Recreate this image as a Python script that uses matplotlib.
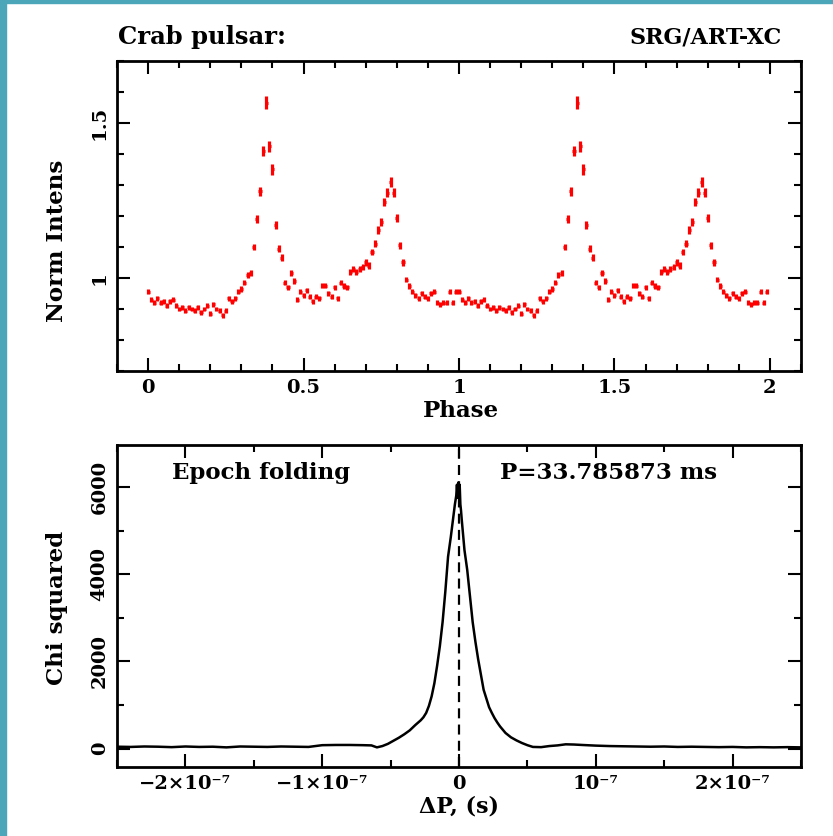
import numpy as np
import matplotlib
matplotlib.use("Agg")
import matplotlib.pyplot as plt
from matplotlib.patches import Rectangle

# folded light curve, one cycle in 100 phase bins (shown twice)
phase_bins = np.arange(100) * 0.01
norm_intens = [
    0.955, 0.93, 0.92, 0.935, 0.92, 0.925, 0.91, 0.925, 0.93, 0.91,
    0.90, 0.905, 0.895, 0.905, 0.90, 0.895, 0.905, 0.89, 0.90, 0.91,
    0.885, 0.915, 0.90, 0.895, 0.88, 0.895, 0.935, 0.925, 0.935, 0.955,
    0.965, 0.985, 1.01, 1.015, 1.10, 1.19, 1.28, 1.41, 1.565, 1.425,
    1.35, 1.17, 1.095, 1.065, 0.985, 0.97, 1.015, 0.99, 0.93, 0.955,
    0.945, 0.96, 0.94, 0.925, 0.94, 0.935, 0.975, 0.975, 0.95, 0.94,
    0.97, 0.935, 0.985, 0.975, 0.97, 1.02, 1.03, 1.02, 1.03, 1.035,
    1.05, 1.04, 1.085, 1.11, 1.155, 1.18, 1.245, 1.275, 1.31, 1.275,
    1.195, 1.105, 1.05, 0.995, 0.975, 0.955, 0.945, 0.935, 0.95, 0.94,
    0.935, 0.95, 0.955, 0.92, 0.915, 0.92, 0.92, 0.955, 0.92, 0.955,
]
intens_err = [
    0.008, 0.008, 0.008, 0.008, 0.008, 0.008, 0.008, 0.008, 0.008, 0.008,
    0.008, 0.008, 0.008, 0.008, 0.008, 0.008, 0.008, 0.008, 0.008, 0.008,
    0.008, 0.008, 0.008, 0.008, 0.008, 0.008, 0.008, 0.008, 0.008, 0.008,
    0.009, 0.009, 0.010, 0.010, 0.011, 0.013, 0.015, 0.017, 0.021, 0.018,
    0.017, 0.013, 0.011, 0.011, 0.009, 0.009, 0.010, 0.009, 0.008, 0.008,
    0.008, 0.008, 0.008, 0.008, 0.008, 0.008, 0.008, 0.008, 0.008, 0.008,
    0.008, 0.008, 0.009, 0.009, 0.009, 0.010, 0.010, 0.010, 0.010, 0.010,
    0.010, 0.010, 0.010, 0.011, 0.012, 0.013, 0.014, 0.015, 0.016, 0.015,
    0.013, 0.011, 0.010, 0.009, 0.009, 0.008, 0.008, 0.008, 0.008, 0.008,
    0.008, 0.008, 0.008, 0.008, 0.008, 0.008, 0.008, 0.008, 0.008, 0.008,
]

# epoch folding: chi^2 vs period offset (units of 1e-7 s)
dp = [-2.5, -2.4, -2.3, -2.2, -2.1, -2.0, -1.9, -1.8, -1.7, -1.6, -1.5, -1.4,
      -1.3, -1.2, -1.1, -1.0, -0.9, -0.8, -0.7, -0.64, -0.6, -0.56, -0.52,
      -0.48, -0.44, -0.40, -0.36, -0.32, -0.28, -0.26, -0.24, -0.22, -0.20,
      -0.18, -0.16, -0.14, -0.12, -0.10, -0.08, -0.06, -0.04, -0.03, -0.02,
      -0.015, -0.01, -0.005, 0.0, 0.005, 0.01, 0.015, 0.02, 0.03, 0.04, 0.06,
      0.08, 0.10, 0.12, 0.14, 0.16, 0.18, 0.20, 0.22, 0.24, 0.26, 0.28, 0.30,
      0.34, 0.38, 0.42, 0.46, 0.50, 0.54, 0.60, 0.66, 0.72, 0.78, 0.84, 0.90,
      1.0, 1.1, 1.2, 1.3, 1.4, 1.5, 1.6, 1.7, 1.8, 1.9, 2.0, 2.1, 2.2, 2.3,
      2.4, 2.5]
chi2 = [45, 40, 50, 45, 35, 50, 40, 45, 30, 50, 45, 40,
        50, 45, 40, 80, 85, 85, 80, 75, 30, 60, 110,
        180, 250, 330, 420, 540, 650, 720, 820, 980, 1200,
        1500, 1900, 2350, 2900, 3600, 4400, 4850, 5350, 5600, 5800,
        6050, 5750, 6100, 5900, 6050, 5600, 5450, 5250, 4900, 4550, 4100,
        3500, 2900, 2450, 2050, 1700, 1350, 1150, 950, 820, 700, 600, 510,
        360, 260, 190, 130, 80, 40, 35, 60, 75, 100, 95, 85,
        70, 60, 55, 50, 45, 50, 40, 45, 40, 35, 40, 30, 35, 30,
        35, 30]

phase_ticks = [0, 0.5, 1, 1.5, 2]
phase_labels = ["0", "0.5", "1", "1.5", "2"]
dp_ticks = [-2e-7, -1e-7, 0, 1e-7, 2e-7]
dp_labels = ["\u22122\u00d710\u207b\u2077", "\u22121\u00d710\u207b\u2077", "0",
             "10\u207b\u2077", "2\u00d710\u207b\u2077"]

plt.rcParams["font.family"] = "DejaVu Serif"
plt.rcParams["font.weight"] = "bold"
plt.rcParams["axes.labelweight"] = "bold"
plt.rcParams["font.size"] = 14
big = 16.5

W, H = 833, 836
fig = plt.figure(figsize=(W / 100, H / 100), dpi=100)
fig.patch.set_facecolor("white")

# slide background strips along the left and top edges
teal = "#4aa6b8"
fig.patches.append(Rectangle((0, 0), 6 / W, 1, transform=fig.transFigure,
                             color=teal, zorder=0))
fig.patches.append(Rectangle((0, 1 - 3 / H), 1, 3 / H,
                             transform=fig.transFigure, color=teal, zorder=0))


def style_axes(ax):
    for s in ax.spines.values():
        s.set_linewidth(2.0)
    ax.tick_params(which="both", direction="in", top=True, right=True,
                   width=1.5)
    ax.tick_params(which="major", length=9.5)
    ax.tick_params(which="minor", length=5)
    ax.tick_params(axis="y", labelrotation=90, pad=6)
    ax.tick_params(axis="x", pad=6)
    for lab in ax.get_yticklabels():
        lab.set_va("center")


# top: pulse profile
ax1 = fig.add_axes([117 / W, 1 - 371 / H, 684 / W, 310 / H])
ph = np.concatenate([phase_bins, phase_bins + 1])
val = np.tile(norm_intens, 2)
err = np.tile(intens_err, 2)
ax1.errorbar(ph, val, yerr=err, xerr=0.005, fmt="none", ecolor="red",
             elinewidth=2.3, capsize=0)
ax1.set_xlim(-0.1, 2.1)
ax1.set_ylim(0.7, 1.7)
ax1.set_xticks(phase_ticks)
ax1.set_xticklabels(phase_labels)
ax1.set_xticks(np.arange(-0.1, 2.11, 0.1), minor=True)
ax1.set_yticks([1.0, 1.5])
ax1.set_yticklabels(["1", "1.5"])
ax1.set_yticks(np.arange(0.7, 1.71, 0.1), minor=True)
ax1.set_xlabel("Phase", fontsize=big, va="center")
ax1.xaxis.set_label_coords(461 / W, 1 - 411 / H, transform=fig.transFigure)
ax1.set_ylabel("Norm Intens", fontsize=big, va="center")
ax1.yaxis.set_label_coords(57 / W, 1 - 241 / H, transform=fig.transFigure)
style_axes(ax1)

# bottom: chi^2 of epoch folding
ax2 = fig.add_axes([117 / W, 1 - 767 / H, 684 / W, 322 / H])
ax2.plot(np.array(dp) * 1e-7, chi2, color="black", lw=1.8)
ax2.axvline(0, color="black", lw=1.6, ls=(0, (4.5, 2.8)))
ax2.set_xlim(-2.5e-7, 2.5e-7)
ax2.set_ylim(-420, 6960)
ax2.set_xticks(dp_ticks)
ax2.set_xticklabels(dp_labels)
ax2.set_xticks(np.arange(-2.5e-7, 2.51e-7, 0.5e-7), minor=True)
ax2.set_yticks([0, 2000, 4000, 6000])
ax2.set_yticklabels(["0", "2000", "4000", "6000"])
ax2.set_yticks(np.arange(0, 7000, 1000), minor=True)
ax2.set_xlabel("\u0394P, (s)", fontsize=16, va="center")
ax2.xaxis.set_label_coords(459 / W, 1 - 807 / H, transform=fig.transFigure)
ax2.set_ylabel("Chi squared", fontsize=big, va="center")
ax2.yaxis.set_label_coords(57 / W, 1 - 608 / H, transform=fig.transFigure)
ax2.text(-2.1e-7, 6320, "Epoch folding", va="center", ha="left",
         fontsize=big)
ax2.text(0.30e-7, 6320, "P=33.785873 ms", va="center", ha="left",
         fontsize=big)
style_axes(ax2)

fig.text(118 / W, 1 - 37 / H, "Crab pulsar:", ha="left", va="center",
         fontsize=17.5)
fig.text(782 / W, 1 - 37 / H, "SRG/ART-XC", ha="right", va="center",
         fontsize=16)

fig.savefig("out.png", dpi=100)
